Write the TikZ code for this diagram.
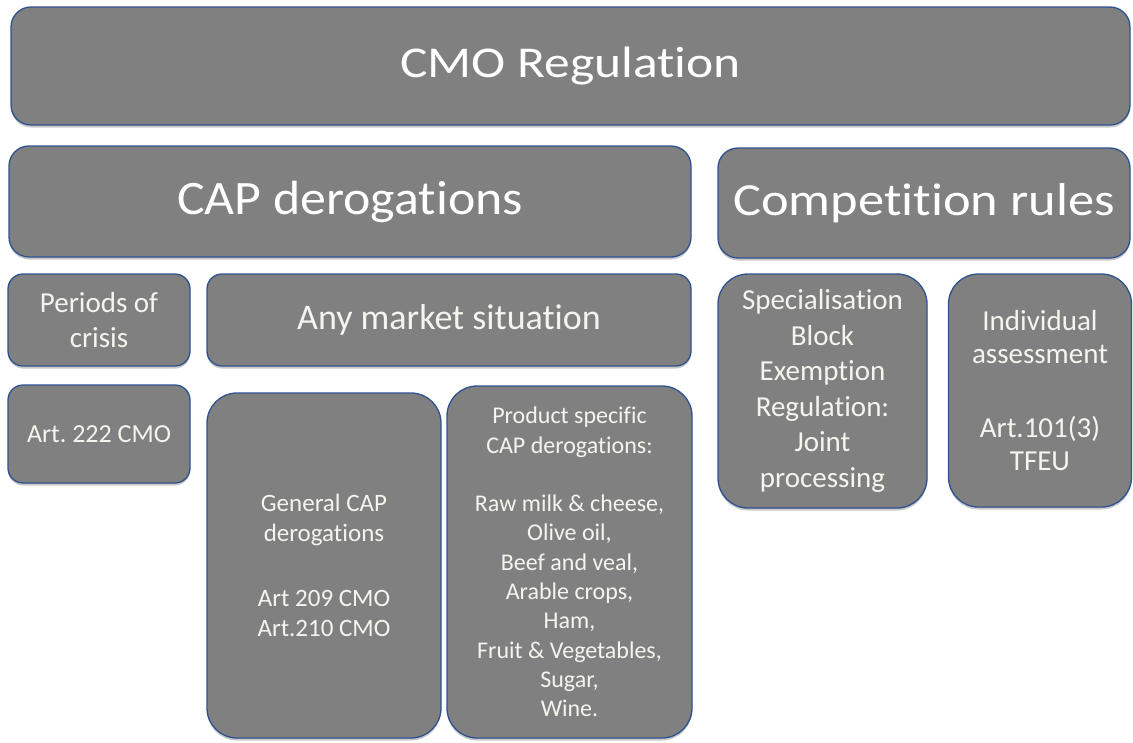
\documentclass[tikz,border=0pt]{standalone}
\usepackage{fontspec}
\setmainfont{Carlito}[Ligatures=NoCommon]
\newfontfamily\cmofont[FakeStretch=1.17,Ligatures=NoCommon]{Carlito}
\newfontfamily\capfont[FakeStretch=1.08,Ligatures=NoCommon]{Carlito}
\newfontfamily\compfont[FakeStretch=1.14,Ligatures=NoCommon]{Carlito}
\usetikzlibrary{shadows}
\definecolor{boxfill}{RGB}{128,128,128}
\definecolor{boxline}{RGB}{47,82,143}
\definecolor{txt}{RGB}{246,244,238}
\frenchspacing
\tikzset{
  box/.style={draw=boxline, line width=1.3pt, fill=boxfill, text=txt, align=center,
    inner sep=0pt, rounded corners=#1,
    drop shadow={shadow xshift=0pt, shadow yshift=-2.5pt, opacity=0.35, fill=black!60}},
  box/.default=16pt
}
\begin{document}
\begin{tikzpicture}[x=1pt,y=-1pt]
\useasboundingbox[fill=white] (0,0) rectangle (1133,742);

\node[box=20pt, minimum width=1119pt, minimum height=118pt, text=white,
  font={\cmofont\fontsize{44}{52}\selectfont}] (cmo) at (570.5,66)
  {CMO Regulation};

\node[box=20pt, minimum width=682pt, minimum height=111pt, text=white,
  font={\capfont\fontsize{48}{56}\selectfont}] (cap) at (350,201.5)
  {CAP derogations};

\node[box=20pt, minimum width=412pt, minimum height=110pt, text=white,
  font={\compfont\fontsize{46}{54}\selectfont}] (comp) at (924,203)
  {Competition rules};

\node[box=15pt, minimum width=182pt, minimum height=92pt,
  font={\fontsize{29}{35}\selectfont}] (crisis) at (99,320)
  {Periods of\\crisis};

\node[box=15pt, minimum width=182pt, minimum height=98pt,
  font={\fontsize{26}{31}\selectfont}] (art) at (99,434)
  {Art. 222 CMO};

\node[box=15pt, minimum width=484pt, minimum height=92pt,
  font={\fontsize{36}{43}\selectfont}] (any) at (449,320)
  {Any market situation};

\node[box=30pt, minimum width=234pt, minimum height=345pt,
  font={\fontsize{25}{30}\selectfont}] (gen) at (324,565.5)
  {General CAP\\derogations\\[35pt]Art 209 CMO\\Art.210 CMO};

\node[box=30pt, minimum width=245pt, minimum height=352pt,
  font={\fontsize{24}{29.3}\selectfont}] (prod) at (569.5,562)
  {Product specific\\CAP derogations:\\[29.3pt]Raw milk \& cheese,\\Olive oil,\\Beef and veal,\\Arable crops,\\Ham,\\Fruit \& Vegetables,\\Sugar,\\Wine.};

\node[box=30pt, minimum width=209pt, minimum height=234pt,
  font={\fontsize{29}{35.6}\selectfont}] (spec) at (822.5,391)
  {Specialisation\\Block\\Exemption\\Regulation:\\Joint\\processing};

\node[box=30pt, minimum width=183pt, minimum height=233pt,
  font={\fontsize{29}{33.3}\selectfont}] (ind) at (1040,390.5)
  {Individual\\assessment\\[40pt]Art.101(3)\\TFEU};
\end{tikzpicture}
\end{document}
